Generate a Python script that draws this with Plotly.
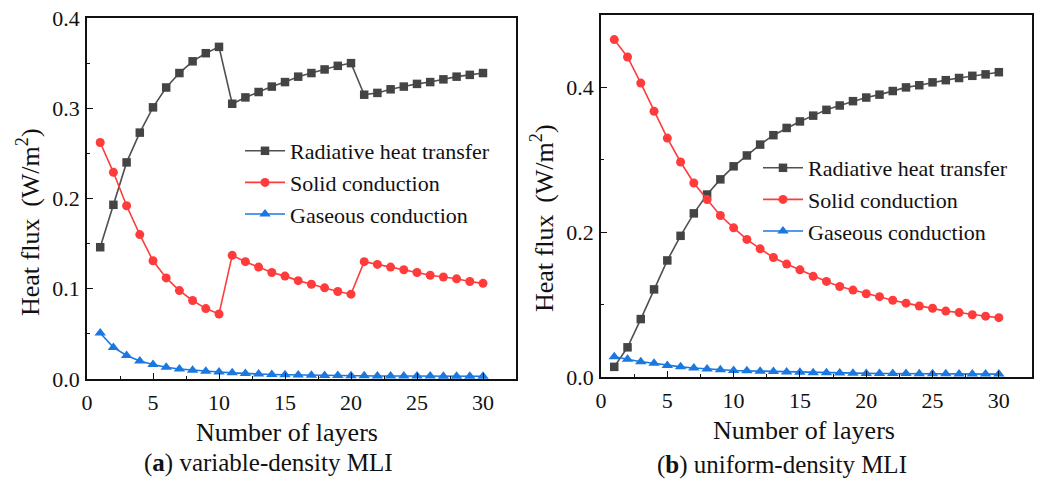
import plotly.graph_objects as go

layers = list(range(1, 31))

# (a) variable-density MLI
var_radiative = [0.146, 0.193, 0.240, 0.273, 0.301, 0.323, 0.339, 0.352, 0.361, 0.368,
                 0.305, 0.312, 0.318, 0.324, 0.329, 0.335, 0.339, 0.343, 0.347, 0.350,
                 0.315, 0.317, 0.321, 0.324, 0.327, 0.329, 0.332, 0.335, 0.337, 0.339]
var_solid = [0.262, 0.229, 0.192, 0.160, 0.131, 0.112, 0.098, 0.087, 0.078, 0.072,
             0.137, 0.130, 0.124, 0.118, 0.114, 0.109, 0.105, 0.101, 0.097, 0.094,
             0.130, 0.127, 0.124, 0.121, 0.118, 0.115, 0.113, 0.111, 0.108, 0.106]
var_gas = [0.051, 0.035, 0.026, 0.020, 0.016, 0.013, 0.011, 0.0097, 0.0085, 0.0078,
           0.0068, 0.0060, 0.0055, 0.0050, 0.0047, 0.0044, 0.0042, 0.0040, 0.0038, 0.0036,
           0.0035, 0.0034, 0.0033, 0.0033, 0.0032, 0.0032, 0.0031, 0.0031, 0.0030, 0.0030]

# (b) uniform-density MLI
uni_radiative = [0.014, 0.041, 0.080, 0.121, 0.161, 0.195, 0.226, 0.252, 0.273, 0.291,
                 0.306, 0.321, 0.334, 0.344, 0.353, 0.361, 0.369, 0.375, 0.381, 0.386,
                 0.390, 0.395, 0.400, 0.403, 0.407, 0.410, 0.413, 0.416, 0.418, 0.421]
uni_solid = [0.466, 0.442, 0.406, 0.367, 0.330, 0.297, 0.268, 0.245, 0.223, 0.206,
             0.190, 0.177, 0.165, 0.156, 0.148, 0.139, 0.132, 0.125, 0.120, 0.115,
             0.111, 0.106, 0.102, 0.098, 0.095, 0.091, 0.089, 0.086, 0.084, 0.082]
uni_gas = [0.028, 0.0245, 0.021, 0.019, 0.016, 0.014, 0.0125, 0.011, 0.010, 0.009,
           0.0085, 0.008, 0.0075, 0.007, 0.0065, 0.006, 0.0058, 0.0055, 0.0052, 0.005,
           0.0049, 0.0048, 0.0047, 0.0046, 0.0045, 0.0044, 0.0043, 0.0042, 0.0041, 0.004]

series_names = ["Radiative heat transfer", "Solid conduction", "Gaseous conduction"]
captions = ["(<b>a</b>) variable-density MLI", "(<b>b</b>) uniform-density MLI"]
x_title = "Number of layers"
y_title = "Heat flux\u2009 (W/m<sup>2</sup>)"

FONT = "'Liberation Serif', 'Times New Roman', serif"
line_colors = ["#505050", "#ff3b3b", "#1a78e0"]
marker_colors = ["#444444", "#ff3b3b", "#1a78e0"]
symbols = ["square", "circle", "triangle-up"]
msizes = [8.5, 9, 10]

fig = go.Figure()

panels = [
    (var_radiative, var_solid, var_gas, "x", "y", "legend"),
    (uni_radiative, uni_solid, uni_gas, "x2", "y2", "legend2"),
]
for rad, sol, gas, xa, ya, lg in panels:
    for i, vals in enumerate([rad, sol, gas]):
        fig.add_trace(go.Scatter(
            x=layers, y=vals, mode="lines+markers", name=series_names[i],
            xaxis=xa, yaxis=ya, legend=lg,
            line=dict(color=line_colors[i], width=1.6),
            marker=dict(symbol=symbols[i], size=msizes[i], color=marker_colors[i],
                        line=dict(width=0)),
        ))

W, H = 1041, 480
def px_x(p):
    return p / W
def px_y(p):
    return 1 - p / H

axis_common = dict(
    showline=True, linecolor="#111111", linewidth=1.6, mirror=True,
    ticks="inside", ticklen=6, tickwidth=1.4, tickcolor="#111111",
    showgrid=False, zeroline=False, automargin=False,
    tickfont=dict(family=FONT, size=22, color="#111111"),
)
minor_common = dict(ticks="inside", ticklen=3, tickwidth=1.2, tickcolor="#111111", showgrid=False)

fig.update_layout(
    width=W, height=H,
    margin=dict(l=0, r=0, t=0, b=0, pad=0, autoexpand=False),
    paper_bgcolor="white", plot_bgcolor="white",
    font=dict(family=FONT, color="#111111"),
    xaxis=dict(domain=[px_x(87), px_x(516)], anchor="y", range=[0, 32.5], dtick=5, tick0=0,
               ticklabelstandoff=3,
               minor=dict(dtick=2.5, tick0=0, **minor_common), **axis_common),
    yaxis=dict(domain=[px_y(379), px_y(18)], anchor="x", range=[0, 0.4], dtick=0.1, tick0=0,
               tickformat=".1f", ticklabelstandoff=1,
               minor=dict(dtick=0.05, tick0=0, **minor_common), **axis_common),
    xaxis2=dict(domain=[px_x(601), px_x(1032)], anchor="y2", range=[0, 32.5], dtick=5, tick0=0,
                ticklabelstandoff=3,
                minor=dict(dtick=2.5, tick0=0, **minor_common), **axis_common),
    yaxis2=dict(domain=[px_y(377), px_y(15)], anchor="x2", range=[0, 0.5], dtick=0.2, tick0=0,
                tickformat=".1f", ticklabelstandoff=1,
                minor=dict(dtick=0.1, tick0=0, **minor_common), **axis_common),
    legend=dict(x=px_x(240), y=px_y(130), xanchor="left", yanchor="top",
                bgcolor="rgba(0,0,0,0)", font=dict(family=FONT, size=22, color="#111111"),
                itemwidth=40, tracegroupgap=0),
    legend2=dict(x=px_x(758), y=px_y(147), xanchor="left", yanchor="top",
                 bgcolor="rgba(0,0,0,0)", font=dict(family=FONT, size=22, color="#111111"),
                 itemwidth=40, tracegroupgap=0),
    showlegend=True,
)

annos = [
    dict(text=x_title, x=px_x(287), y=px_y(432), font_size=26),
    dict(text=x_title, x=px_x(804), y=px_y(430), font_size=26),
    dict(text=captions[0], x=px_x(268), y=px_y(463), font_size=25),
    dict(text=captions[1], x=px_x(782), y=px_y(465), font_size=25),
    dict(text=y_title, x=px_x(28), y=px_y(222), font_size=26, textangle=-90),
    dict(text=y_title, x=px_x(543), y=px_y(218), font_size=26, textangle=-90),
]
for a in annos:
    fig.add_annotation(xref="paper", yref="paper", showarrow=False,
                       xanchor="center", yanchor="middle",
                       text=a["text"], x=a["x"], y=a["y"],
                       textangle=a.get("textangle", 0),
                       font=dict(family=FONT, size=a["font_size"], color="#111111"))

fig.write_html("out.html", config={"displayModeBar": False},
               post_script="document.body.style.margin='0';document.body.style.overflow='hidden';")
